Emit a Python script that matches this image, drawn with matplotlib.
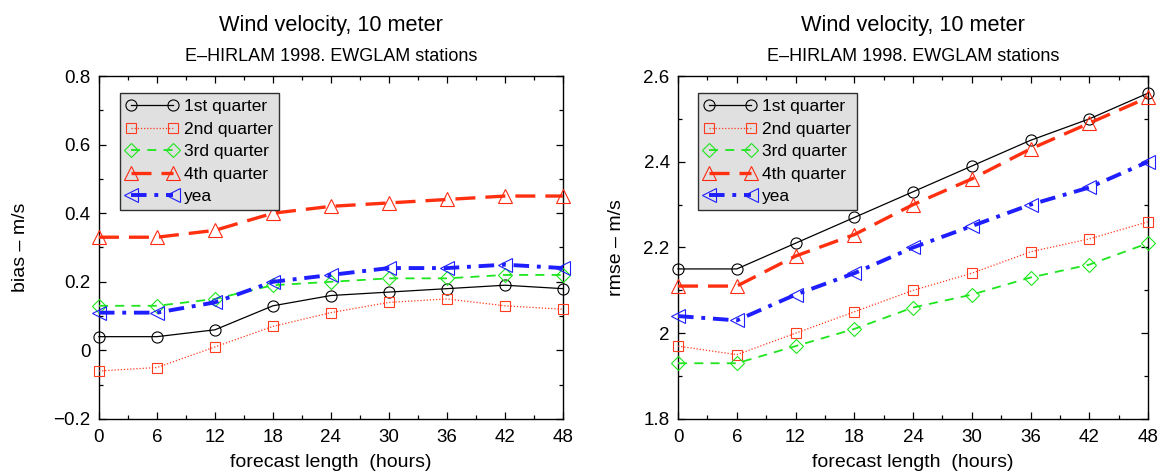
import matplotlib
matplotlib.use("Agg")
import matplotlib.pyplot as plt
from matplotlib.ticker import MultipleLocator, FuncFormatter

plt.rcParams['font.family'] = ['Liberation Sans', 'DejaVu Sans']

hours = [0, 6, 12, 18, 24, 30, 36, 42, 48]
series_names = ["1st quarter", "2nd quarter", "3rd quarter", "4th quarter", "yea"]

bias_q1 = [0.04, 0.04, 0.06, 0.13, 0.16, 0.17, 0.18, 0.19, 0.18]
bias_q2 = [-0.06, -0.05, 0.01, 0.07, 0.11, 0.14, 0.15, 0.13, 0.12]
bias_q3 = [0.13, 0.13, 0.15, 0.19, 0.20, 0.21, 0.21, 0.22, 0.22]
bias_q4 = [0.33, 0.33, 0.35, 0.40, 0.42, 0.43, 0.44, 0.45, 0.45]
bias_year = [0.11, 0.11, 0.14, 0.20, 0.22, 0.24, 0.24, 0.25, 0.24]

rmse_q1 = [2.15, 2.15, 2.21, 2.27, 2.33, 2.39, 2.45, 2.50, 2.56]
rmse_q2 = [1.97, 1.95, 2.00, 2.05, 2.10, 2.14, 2.19, 2.22, 2.26]
rmse_q3 = [1.93, 1.93, 1.97, 2.01, 2.06, 2.09, 2.13, 2.16, 2.21]
rmse_q4 = [2.11, 2.11, 2.18, 2.23, 2.30, 2.36, 2.43, 2.49, 2.55]
rmse_year = [2.04, 2.03, 2.09, 2.14, 2.20, 2.25, 2.30, 2.34, 2.40]

styles = [
    dict(color="black", lw=0.9, ls="-", marker="o", ms=8, mec="black"),
    dict(color="#ff3c1e", lw=0.9, ls=(0, (1, 1.5)), marker="s", ms=7.8, mec="#ff3c1e"),
    dict(color="#1ee61e", lw=1.3, ls=(0, (5, 4)), marker="D", ms=7, mec="#1ee61e"),
    dict(color="#ff3010", lw=2.4, ls=(0, (6, 3)), marker="^", ms=10, mec="#ff2a10"),
    dict(color="#1e1eff", lw=2.8, ls=(0, (4, 2, 1, 2)), marker="<", ms=10, mec="#1e1eff"),
]


def fmt(v, pos):
    if abs(v) < 1e-9:
        return "0"
    s = f"{v:.1f}"
    if s.endswith(".0"):
        s = s[:-2]
    return s.replace("-", "\u2212")


fig = plt.figure(figsize=(11.64, 4.73), dpi=100)
ax1 = fig.add_axes([0.085, 0.1142, 0.3986, 0.7251])
ax2 = fig.add_axes([0.5825, 0.1142, 0.4038, 0.7251])

panels = [
    (ax1, [bias_q1, bias_q2, bias_q3, bias_q4, bias_year], (-0.2, 0.8), "bias \u2013 m/s", 0.045, -0.150),
    (ax2, [rmse_q1, rmse_q2, rmse_q3, rmse_q4, rmse_year], (1.8, 2.6), "rmse \u2013 m/s", 0.0426, -0.113),
]

for ax, data, ylim, ylabel, lx, ylx in panels:
    for name, vals, st in zip(series_names, data, styles):
        ax.plot(hours, vals, label=name, color=st["color"], lw=st["lw"], ls=st["ls"],
                marker=st["marker"], ms=st["ms"], mfc="none", mec=st["mec"], mew=0.8,
                clip_on=False, zorder=3)
    ax.set_xlim(0, 48)
    ax.set_ylim(*ylim)
    ax.xaxis.set_major_locator(MultipleLocator(6))
    ax.xaxis.set_minor_locator(MultipleLocator(3))
    ax.yaxis.set_major_locator(MultipleLocator(0.2))
    ax.yaxis.set_minor_locator(MultipleLocator(0.1))
    ax.yaxis.set_major_formatter(FuncFormatter(fmt))
    ax.tick_params(which="both", direction="in", top=True, right=True, labelsize=13.5)
    ax.tick_params(axis="x", pad=7)
    ax.tick_params(axis="y", pad=6)
    ax.tick_params(which="major", length=5, width=0.9)
    ax.tick_params(which="minor", length=3, width=0.9)
    for sp in ax.spines.values():
        sp.set_linewidth(1.0)
    ax.set_xlabel("forecast length  (hours)", fontsize=14, labelpad=6)
    ax.set_ylabel(ylabel, fontsize=14)
    ax.yaxis.set_label_coords(ylx, 0.5)
    ax.text(0.5, 1.13, "Wind velocity, 10 meter", transform=ax.transAxes,
            ha="center", va="baseline", fontsize=15.7)
    ax.text(0.5, 1.045, "E\u2013HIRLAM 1998. EWGLAM stations", transform=ax.transAxes,
            ha="center", va="baseline", fontsize=13)
    leg = ax.legend(loc="upper left", bbox_to_anchor=(lx, 0.95), borderaxespad=0,
                    fontsize=12.5, numpoints=2, handlelength=3.0, handletextpad=0.35,
                    labelspacing=0.42, borderpad=0.35, fancybox=False, framealpha=1)
    leg.get_frame().set_facecolor("#e0e0e0")
    leg.get_frame().set_edgecolor("#303030")
    leg.get_frame().set_linewidth(1.0)

fig.savefig("out.png", dpi=100)
